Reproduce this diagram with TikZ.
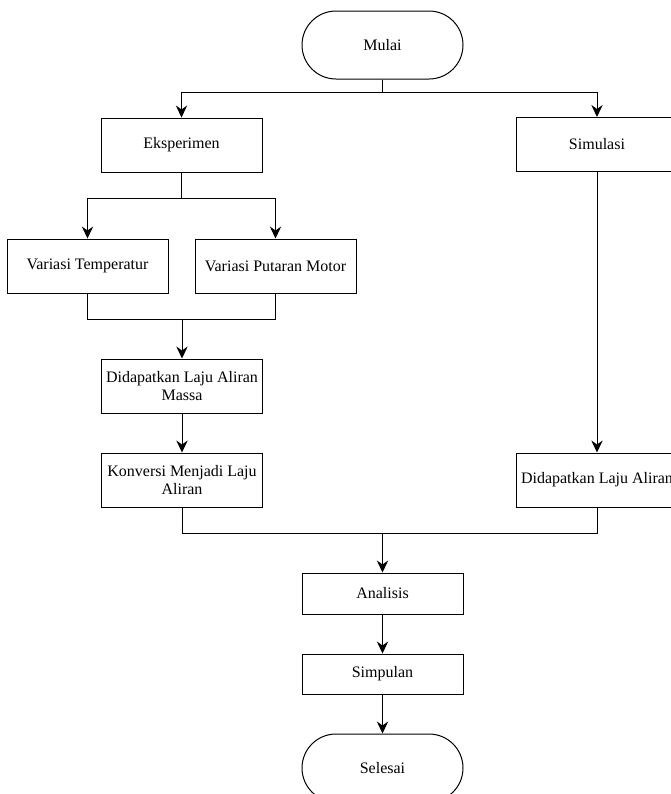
\documentclass[tikz,border=0pt]{standalone}
\usepackage{fontspec}
\setmainfont{Liberation Serif}
\usetikzlibrary{arrows.meta}

\begin{document}
\begin{tikzpicture}[x=0.75pt,y=-0.75pt,
    every node/.style={font=\fontsize{12}{13.5}\selectfont},
    proses/.style={draw, line width=0.75pt, minimum width=120.75pt, minimum height=40.5pt, inner sep=1pt, align=center},
    terminal/.style={draw, line width=0.75pt, minimum width=120.75pt, minimum height=51pt, rounded corners=25.5pt},
    garis/.style={line width=0.75pt},
    panah/.style={line width=0.75pt, -{Stealth[length=9pt,width=8.5pt,inset=3pt]}}]
    \clip (0,0) rectangle (671,794);

    \node[terminal] (mulai) at (382.5,45) {Mulai};
    \node[proses] (eksperimen) at (181.5,145) {Eksperimen};
    \node[proses] (simulasi) at (597,144.5) {Simulasi};
    \node[proses] (temperatur) at (87.5,266) {Variasi Temperatur};
    \node[proses] (putaran) at (275.5,266) {Variasi Putaran Motor};
    \node[proses] (massa) at (182,386) {Didapatkan Laju Aliran\\Massa};
    \node[proses] (konversi) at (182,480) {Konversi Menjadi Laju\\Aliran};
    \node[proses] (laju) at (597,480) {Didapatkan Laju Aliran};
    \node[proses, minimum height=30.75pt] (analisis) at (382.5,593.5) {Analisis};
    \node[proses, minimum height=30pt] (simpulan) at (382.5,674) {Simpulan};
    \node[terminal] (selesai) at (382.5,768) {Selesai};

    \coordinate (cabang1) at (382.5,92);
    \coordinate (cabang2) at (181.5,198);
    \coordinate (gabung1) at (182,319);
    \coordinate (gabung2) at (382.5,533);

    \draw[garis] (mulai) -- (cabang1);
    \draw[panah] (cabang1) -| (eksperimen);
    \draw[panah] (cabang1) -| (simulasi);

    \draw[garis] (eksperimen) -- (cabang2);
    \draw[panah] (cabang2) -| (temperatur);
    \draw[panah] (cabang2) -| (putaran);

    \draw[garis] (temperatur) |- (gabung1);
    \draw[garis] (putaran) |- (gabung1);
    \draw[panah] (gabung1) -- (massa);
    \draw[panah] (massa) -- (konversi);
    \draw[panah] (simulasi) -- (laju);

    \draw[garis] (konversi) |- (gabung2);
    \draw[garis] (laju) |- (gabung2);
    \draw[panah] (gabung2) -- (analisis);
    \draw[panah] (analisis) -- (simpulan);
    \draw[panah] (simpulan) -- (selesai);
\end{tikzpicture}
\end{document}
